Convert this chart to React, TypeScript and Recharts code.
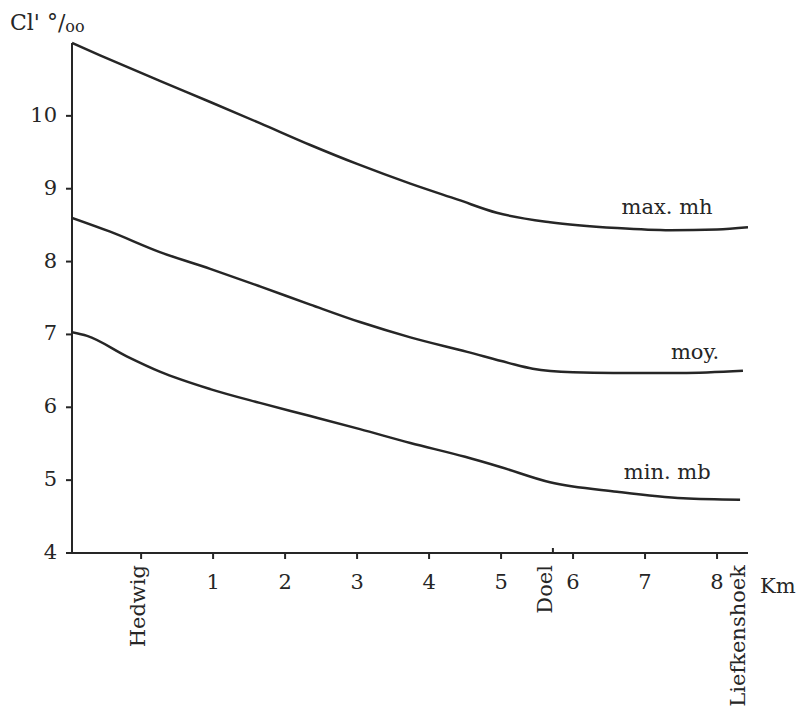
import { LineChart, Line, XAxis, YAxis, Label } from "recharts";

// chlorinity (Cl' o/oo) along the river, km from Hedwig
const maxKm = [-0.96, -0.57, 0.26, 0.96, 1.65, 2.35, 3.0, 3.74, 4.4, 4.94, 5.68, 6.61, 7.35, 8.0, 8.43];
const maxCl = [11.0, 10.83, 10.48, 10.19, 9.9, 9.6, 9.34, 9.07, 8.85, 8.67, 8.54, 8.46, 8.43, 8.44, 8.47];

const moyKm = [-0.96, -0.43, 0.26, 0.96, 1.65, 2.35, 3.04, 3.74, 4.53, 5.1, 5.44, 6.0, 6.56, 7.5, 8.36];
const moyCl = [8.6, 8.41, 8.13, 7.9, 7.66, 7.41, 7.17, 6.96, 6.76, 6.61, 6.53, 6.48, 6.47, 6.47, 6.5];

const minKm = [-0.96, -0.75, -0.2, 0.26, 0.96, 1.65, 2.35, 3.04, 3.74, 4.5, 4.99, 5.68, 6.61, 7.53, 8.32];
const minCl = [7.03, 6.98, 6.7, 6.49, 6.25, 6.06, 5.88, 5.7, 5.51, 5.32, 5.18, 4.97, 4.84, 4.75, 4.73];

const kmTicks = [0, 1, 2, 3, 4, 5, 5.72, 6, 7, 8, 8.35];
const placeNames: Record<number, string> = { 0: "Hedwig", 5.72: "Doel", 8.35: "Liefkenshoek" };
const clTicks = [4, 5, 6, 7, 8, 9, 10];

const toPoints = (km: number[], cl: number[]) => km.map((k, i) => ({ km: k, cl: cl[i] }));
const maxData = toPoints(maxKm, maxCl);
const moyData = toPoints(moyKm, moyCl);
const minData = toPoints(minKm, minCl);

const FONT = "'DejaVu Serif', serif";
const INK = "#262626";

function KmTick(props: any) {
  const { x, y, payload } = props;
  const name = placeNames[payload.value];
  if (name) {
    const up = payload.value === 5.72;
    const tx = payload.value === 5.72 ? x - 1 : payload.value === 0 ? x + 4 : x + 3;
    return (
      <g>
        {payload.value !== 8.35 && (
          <line x1={x} x2={x} y1={up ? y - 13 : y - 8} y2={up ? y - 8 : y - 2} stroke={INK} strokeWidth={2} />
        )}
        <text
          x={0}
          y={0}
          transform={`translate(${tx}, ${y + 4}) rotate(-90)`}
          textAnchor="end"
          fontFamily={FONT}
          fontSize={21}
          fill={INK}
        >
          {name}
        </text>
      </g>
    );
  }
  return (
    <g>
      <line x1={x} x2={x} y1={y - 8} y2={y - 2} stroke={INK} strokeWidth={2} />
      <text x={x} y={y + 28} textAnchor="middle" fontFamily={FONT} fontSize={21} fill={INK}>
        {payload.value}
      </text>
    </g>
  );
}

function ClTick(props: any) {
  const { x, y, payload } = props;
  return (
    <g>
      <line x1={x + 2} x2={x + 8} y1={y} y2={y} stroke={INK} strokeWidth={2} />
      <text x={x - 7} y={y + 6} textAnchor="end" fontFamily={FONT} fontSize={21} fill={INK}>
        {payload.value}
      </text>
    </g>
  );
}

const seriesLabel = (text: string, dx: number, dy: number) => (props: any) => {
  const { x, y, index } = props;
  if (index !== 13) return null;
  return (
    <text x={x + dx} y={y + dy} textAnchor="middle" fontFamily={FONT} fontSize={21} fill={INK}>
      {text}
    </text>
  );
};

export default function App() {
  return (
    <div style={{ position: "absolute", left: 0, top: 0, background: "#fff" }}>
      <LineChart width={801} height={714} margin={{ top: 43, right: 53, bottom: 0, left: 0 }}>
        <XAxis
          type="number"
          dataKey="km"
          domain={[-0.96, 8.43]}
          ticks={kmTicks}
          allowDataOverflow
          height={161}
          stroke={INK}
          strokeWidth={2}
          tickLine={false}
          tick={<KmTick />}
          interval={0}
        >
          <Label
            content={() => (
              <text x={760} y={593} fontFamily={FONT} fontSize={21} fill={INK}>
                Km
              </text>
            )}
          />
        </XAxis>
        <YAxis
          type="number"
          domain={[4, 11]}
          ticks={clTicks}
          width={72}
          stroke={INK}
          strokeWidth={2}
          tickLine={false}
          tick={<ClTick />}
          interval={0}
        >
          <Label
            content={() => (
              <text x={10} y={30} fontFamily={FONT} fontSize={22} fill={INK}>
                Cl' °/<tspan fontSize={16} dy={2}>oo</tspan>
              </text>
            )}
          />
        </YAxis>
        <Line data={maxData} dataKey="cl" type="monotone" stroke={INK} strokeWidth={2.5} dot={false} isAnimationActive={false} label={seriesLabel("max. mh", -50, -16)} />
        <Line data={moyData} dataKey="cl" type="monotone" stroke={INK} strokeWidth={2.5} dot={false} isAnimationActive={false} label={seriesLabel("moy.", 14, -14)} />
        <Line data={minData} dataKey="cl" type="monotone" stroke={INK} strokeWidth={2.5} dot={false} isAnimationActive={false} label={seriesLabel("min. mb", -16, -19)} />
      </LineChart>
    </div>
  );
}
